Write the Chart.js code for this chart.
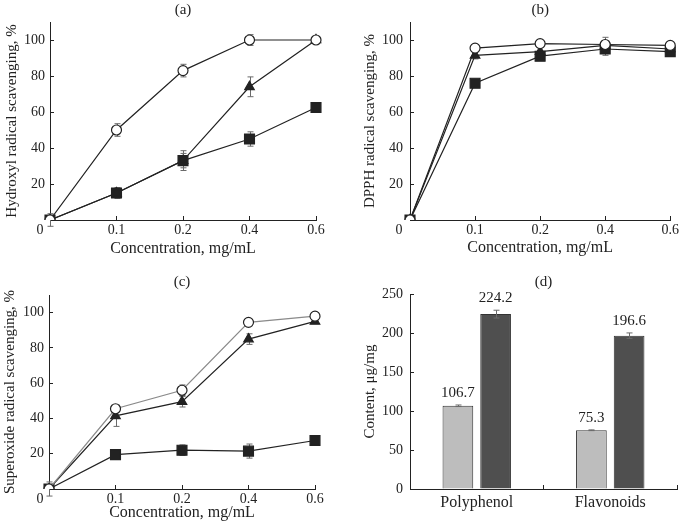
<!DOCTYPE html>
<html>
<head>
<meta charset="utf-8">
<script src="https://cdn.jsdelivr.net/npm/chart.js@4.4.0/dist/chart.umd.min.js"></script>
<style>
  body { margin: 0; background: #fff; }
  #wrap { position: relative; width: 685px; height: 530px; overflow: hidden; }
  #wrap canvas { position: absolute; }
</style>
</head>
<body>
<div id="wrap">
  <canvas id="chartA" width="340" height="265" style="left:0;top:0"></canvas>
  <canvas id="chartB" width="345" height="265" style="left:340px;top:0"></canvas>
  <canvas id="chartC" width="340" height="265" style="left:0;top:265px"></canvas>
  <canvas id="chartD" width="345" height="265" style="left:340px;top:265px"></canvas>
</div>
<script>
// concentrations, mg/mL (evenly spaced on the plot)
const concentrations = ['0', '0.1', '0.2', '0.4', '0.6'];

// (a) hydroxyl radical scavenging, %
const hydroxylCircle = [0, 50, 83, 100, 100];
const hydroxylCircleErr = [3.5, 3.5, 3.5, 3, 1];
const hydroxylTriangle = [0, 15, 33, 74, 100];
const hydroxylTriangleErr = [0, 2, 4, 5.5, 0];
const hydroxylSquare = [0, 15, 33, 45, 62.5];
const hydroxylSquareErr = [0, 3, 5.5, 4, 1];

// (b) DPPH radical scavenging, %
const dpphCircle = [0, 95.5, 98, 97.5, 97];
const dpphCircleErr = [0, 1, 1, 4, 1];
const dpphTriangle = [0, 91.5, 93.5, 97, 95];
const dpphTriangleErr = [0, 2, 3, 1, 1];
const dpphSquare = [0, 76, 91, 95, 93.5];
const dpphSquareErr = [0, 1, 1.5, 3.5, 1];

// (c) superoxide radical scavenging, %
const superoxideCircle = [0, 45.5, 56, 94.5, 98];
const superoxideCircleErr = [4, 1, 3, 1, 1];
const superoxideTriangle = [0, 41.5, 49.5, 85, 95];
const superoxideTriangleErr = [0, 6, 3, 3, 1];
const superoxideSquare = [0, 19.5, 22, 21.5, 27.5];
const superoxideSquareErr = [0, 1.5, 3, 4, 1];

// (d) content, ug/mg
const contentLabels = ['Polyphenol', 'Flavonoids'];
const contentLight = [106.7, 75.3];
const contentLightErr = [1, 0.5];
const contentDark = [224.2, 196.6];
const contentDarkErr = [5, 3.5];

const percentTicks = [20, 40, 60, 80, 100];
const contentTicks = [0, 50, 100, 150, 200, 250];

const SERIF = "'Liberation Serif', 'Times New Roman', serif";
const INK = '#222';
Chart.defaults.font.family = SERIF;
Chart.defaults.color = INK;

// error bars: under the lines, on top of the bars
function drawErrors(chart) {
    const ctx = chart.ctx;
    const yScale = chart.scales.y;
    ctx.save();
    ctx.strokeStyle = '#6a6a6a';
    ctx.lineWidth = 1;
    chart.data.datasets.forEach(function(ds, di) {
        if (!ds.errors) return;
        const meta = chart.getDatasetMeta(di);
        meta.data.forEach(function(el, i) {
            const err = ds.errors[i];
            if (!err) return;
            const v = ds.data[i];
            const top = yScale.getPixelForValue(v + err);
            const bot = yScale.getPixelForValue(v - err);
            const x = Math.round(el.x) + 0.5;
            ctx.beginPath();
            ctx.moveTo(x, top); ctx.lineTo(x, bot);
            ctx.moveTo(x - 3, top); ctx.lineTo(x + 3, top);
            ctx.moveTo(x - 3, bot); ctx.lineTo(x + 3, bot);
            ctx.stroke();
        });
    });
    ctx.restore();
}

const errorBarPlugin = {
    id: 'errorBars',
    beforeDatasetsDraw(chart) {
        if (chart.config.type !== 'bar') drawErrors(chart);
    },
    afterDatasetsDraw(chart) {
        if (chart.config.type === 'bar') drawErrors(chart);
    }
};

// the "0" sitting in the corner of the line panels
const cornerZeroPlugin = {
    id: 'cornerZero',
    afterDraw(chart, args, opts) {
        if (!opts.show) return;
        const ctx = chart.ctx;
        ctx.save();
        ctx.font = '14px ' + SERIF;
        ctx.fillStyle = INK;
        ctx.textAlign = 'center';
        ctx.textBaseline = 'middle';
        ctx.fillText('0', chart.chartArea.left - opts.dx, chart.chartArea.bottom + opts.dy);
        ctx.restore();
    }
};

// numbers above the bars
const barValuePlugin = {
    id: 'barValues',
    afterDatasetsDraw(chart) {
        if (chart.config.type !== 'bar') return;
        const ctx = chart.ctx;
        const yScale = chart.scales.y;
        ctx.save();
        ctx.font = '15px ' + SERIF;
        ctx.fillStyle = INK;
        ctx.textAlign = 'center';
        ctx.textBaseline = 'middle';
        chart.data.datasets.forEach(function(ds, di) {
            chart.getDatasetMeta(di).data.forEach(function(el, i) {
                const top = yScale.getPixelForValue(ds.data[i] + (ds.errors ? ds.errors[i] : 0));
                ctx.fillText(ds.data[i].toFixed(1), el.x, top - 12);
            });
        });
        ctx.restore();
    }
};

Chart.register(errorBarPlugin, cornerZeroPlugin, barValuePlugin);

function series(data, errors, shape, lineColor) {
    const filled = shape !== 'circle';
    return {
        data: data,
        errors: errors,
        borderColor: lineColor || INK,
        borderWidth: 1.2,
        pointStyle: shape,
        pointRadius: shape === 'rect' ? 7 : (shape === 'triangle' ? 5.5 : 5),
        pointBackgroundColor: filled ? INK : '#fff',
        pointBorderColor: INK,
        pointBorderWidth: 1.2,
        tension: 0
    };
}

function lineChart(id, p) {
    return new Chart(document.getElementById(id), {
        type: 'line',
        data: {
            labels: concentrations,
            datasets: [
                series(p.circle, p.circleErr, 'circle', p.circleLine),
                series(p.triangle, p.triangleErr, 'triangle'),
                series(p.square, p.squareErr, 'rect')
            ]
        },
        options: {
            responsive: false,
            animation: false,
            devicePixelRatio: 1,
            layout: { padding: { left: 0, right: p.padRight, top: 0, bottom: 0 } },
            plugins: {
                legend: { display: false },
                tooltip: { enabled: false },
                title: {
                    display: true, text: p.title, fullSize: false, color: INK,
                    font: { size: 15, weight: 'normal' },
                    padding: { top: p.titleTop, bottom: p.titleBottom }
                },
                cornerZero: { show: true, dx: p.zeroDx, dy: 10 }
            },
            scales: {
                x: {
                    type: 'category',
                    offset: false,
                    afterFit: function(s) { s.height = p.xHeight; },
                    border: { color: INK, width: 1 },
                    grid: { drawOnChartArea: false, tickLength: -4, color: INK },
                    ticks: {
                        autoSkip: false, maxRotation: 0, padding: 6,
                        font: { size: 14 },
                        callback: function(v, i) { return i === 0 ? '' : concentrations[i]; }
                    },
                    title: {
                        display: true, text: 'Concentration, mg/mL',
                        font: { size: 16 }, padding: { top: 0, bottom: p.xTitleBottom }
                    }
                },
                y: {
                    min: 0, max: 110,
                    afterFit: function(s) { s.width = p.yWidth; },
                    afterBuildTicks: function(s) { s.ticks = percentTicks.map(function(v) { return { value: v }; }); },
                    border: { color: INK, width: 1 },
                    grid: { drawOnChartArea: false, tickLength: -4, color: INK },
                    ticks: { padding: p.yTickPad, font: { size: 14 } },
                    title: {
                        display: true, text: p.yTitle,
                        font: { size: 15 }, padding: { top: p.yTitlePad, bottom: 0 }
                    }
                }
            }
        }
    });
}

lineChart('chartA', {
    title: '(a)', yTitle: 'Hydroxyl radical scavenging, %',
    circle: hydroxylCircle, circleErr: hydroxylCircleErr,
    triangle: hydroxylTriangle, triangleErr: hydroxylTriangleErr,
    square: hydroxylSquare, squareErr: hydroxylSquareErr,
    padRight: 24, yWidth: 50, xHeight: 45, titleTop: 1, titleBottom: 3,
    xTitleBottom: 7, yTitlePad: 3, yTickPad: 9, zeroDx: 10
});

lineChart('chartB', {
    title: '(b)', yTitle: 'DPPH radical scavenging, %',
    circle: dpphCircle, circleErr: dpphCircleErr,
    triangle: dpphTriangle, triangleErr: dpphTriangleErr,
    square: dpphSquare, squareErr: dpphSquareErr,
    padRight: 11, yWidth: 70, xHeight: 45, titleTop: 1, titleBottom: 3,
    xTitleBottom: 8, yTitlePad: 21, yTickPad: 11, zeroDx: 11
});

lineChart('chartC', {
    title: '(c)', yTitle: 'Superoxide radical scavenging, %',
    circle: superoxideCircle, circleErr: superoxideCircleErr, circleLine: '#8a8a8a',
    triangle: superoxideTriangle, triangleErr: superoxideTriangleErr,
    square: superoxideSquare, squareErr: superoxideSquareErr,
    padRight: 25, yWidth: 49, xHeight: 41, titleTop: 8, titleBottom: 4,
    xTitleBottom: 8, yTitlePad: 1, yTickPad: 9, zeroDx: 9
});

new Chart(document.getElementById('chartD'), {
    type: 'bar',
    data: {
        labels: contentLabels,
        datasets: [
            { data: contentLight, errors: contentLightErr, backgroundColor: '#bdbdbd', borderColor: '#333', borderWidth: 1 },
            { data: contentDark, errors: contentDarkErr, backgroundColor: '#4f4f4f', borderColor: '#333', borderWidth: 1 }
        ]
    },
    options: {
        responsive: false,
        animation: false,
        devicePixelRatio: 1,
        categoryPercentage: 0.565,
        barPercentage: 0.814,
        layout: { padding: { left: 0, right: 8, top: 0, bottom: 0 } },
        plugins: {
            legend: { display: false },
            tooltip: { enabled: false },
            title: {
                display: true, text: '(d)', fullSize: false, color: INK,
                font: { size: 15, weight: 'normal' },
                padding: { top: 8, bottom: 3 }
            }
        },
        scales: {
            x: {
                afterFit: function(s) { s.height = 41; },
                border: { color: INK, width: 1 },
                grid: { drawOnChartArea: false, tickLength: -4, color: INK },
                ticks: { padding: 8, font: { size: 16 } }
            },
            y: {
                min: 0, max: 250,
                afterFit: function(s) { s.width = 70; },
                afterBuildTicks: function(s) { s.ticks = contentTicks.map(function(v) { return { value: v }; }); },
                border: { color: INK, width: 1 },
                grid: { drawOnChartArea: false, tickLength: -4, color: INK },
                ticks: { padding: 11, font: { size: 14 } },
                title: {
                    display: true, text: 'Content, μg/mg',
                    font: { size: 15 }, padding: { top: 21, bottom: 0 }
                }
            }
        }
    }
});
</script>
</body>
</html>
